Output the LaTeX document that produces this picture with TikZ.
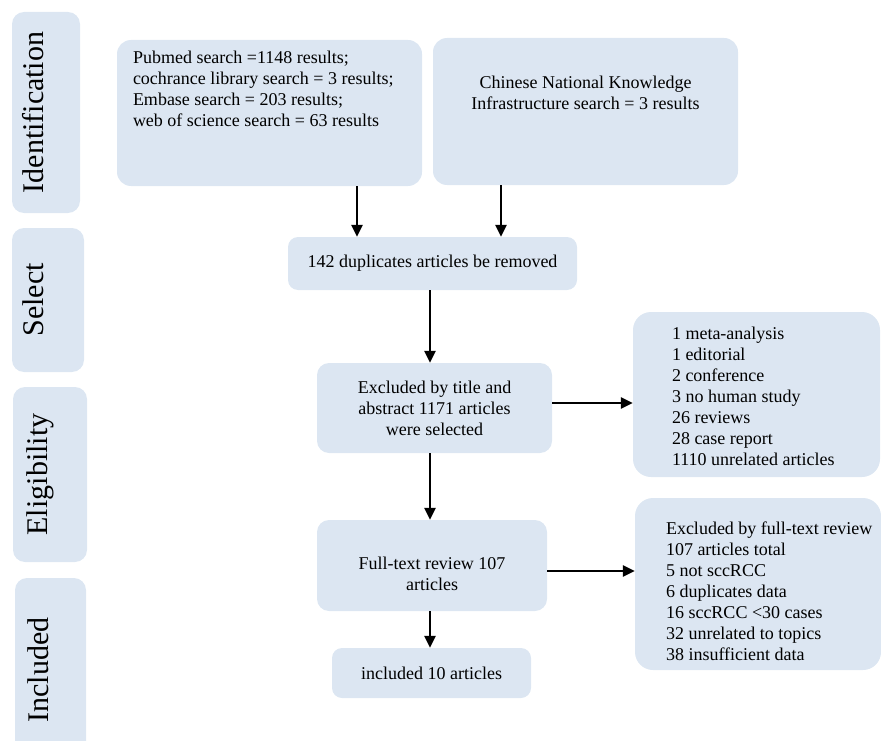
\documentclass[tikz,border=0pt]{standalone}
\usepackage{fontspec}
\setmainfont{Liberation Serif}
\usetikzlibrary{arrows.meta}
\definecolor{boxblue}{HTML}{DCE6F2}
\newcommand\boxtxt[5]{\begin{minipage}[t][#2][t]{#1}\vspace*{#3}\setlength{\leftskip}{#4}\noindent#5\end{minipage}}
\begin{document}
\begin{tikzpicture}[x=1pt,y=-1pt,
  box/.style={fill=boxblue, rounded corners=14pt, inner sep=0pt, font=\fontsize{18}{21}\selectfont},
  side/.style={fill=boxblue, rounded corners=12pt, rotate=90, inner sep=0pt, font=\fontsize{30}{36}\selectfont},
  arr/.style={line width=2.9pt, -{Triangle[length=12pt,width=11pt]}}]
\useasboundingbox (0,0) rectangle (881,741);
\clip (0,0) rectangle (881,741);
% phase labels
\node[side, minimum width=201pt, text height=31pt, text depth=37pt] (sid) at (46,112.5) {Identification};
\node[side, minimum width=144pt, text height=31pt, text depth=41pt] (ssel) at (48,300) {Select};
\node[side, minimum width=175pt, text height=34pt, text depth=40pt] (selig) at (50,474.5) {Eligibility};
\node[side, minimum width=184pt, text height=33pt, text depth=38pt] (sinc) at (50.5,670) {Included};
% main boxes
\node[box, minimum width=305pt, minimum height=146pt] (pub) at (269.5,113)
  {\boxtxt{305pt}{146pt}{11pt}{16pt}{Pubmed search =1148 results;\\cochrance library search = 3 results;\\Embase search = 203 results;\\web of science search = 63 results}};
\node[box, minimum width=305pt, minimum height=147pt] (cnki) at (585.5,111.5)
  {\boxtxt{305pt}{147pt}{38pt}{0pt}{\centering Chinese National Knowledge\\Infrastructure search = 3 results\par}};
\node[box, rounded corners=10pt, minimum width=289pt, minimum height=53pt] (dup) at (432.5,263.5)
  {142 duplicates articles be removed};
\node[box, rounded corners=12pt, minimum width=235pt, minimum height=90pt, align=center] (ex1) at (434.5,408)
  {Excluded by title and\\abstract 1171 articles\\were selected};
\node[box, rounded corners=18pt, minimum width=247pt, minimum height=165pt] (rb1) at (756.5,394.5)
  {\boxtxt{247pt}{165pt}{15.5pt}{39pt}{1 meta-analysis\\1 editorial\\2 conference\\3 no human study\\26 reviews\\28 case report\\1110 unrelated articles}};
\node[box, rounded corners=12pt, minimum width=230pt, minimum height=91pt] (full) at (432,565.5)
  {\boxtxt{230pt}{91pt}{37.5pt}{0pt}{\centering Full-text review 107\\articles\par}};
\node[box, rounded corners=18pt, minimum width=246pt, minimum height=172pt] (rb2) at (758,584)
  {\boxtxt{246pt}{172pt}{23.5pt}{31pt}{Excluded by full-text review\\107 articles total\\5 not sccRCC\\6 duplicates data\\16 sccRCC {<}30 cases\\32 unrelated to topics\\38 insufficient data}};
\node[box, rounded corners=10pt, minimum width=199pt, minimum height=50pt] (inc) at (431.5,673)
  {included 10 articles};
% arrows
\draw[arr] ([xshift=87.5pt]pub.south) -- ([xshift=87.5pt]pub.south |- dup.north);
\draw[arr] ([xshift=-84.5pt]cnki.south) -- ([xshift=-84.5pt]cnki.south |- dup.north);
\draw[arr] ([xshift=-2.5pt]dup.south) -- ([xshift=-2.5pt]dup.south |- ex1.north);
\draw[arr] ([yshift=5pt]ex1.east) -- ([yshift=5pt]ex1.east -| rb1.west);
\draw[arr] ([xshift=-4.5pt]ex1.south) -- ([xshift=-4.5pt]ex1.south |- full.north);
\draw[arr] ([xshift=-2pt]full.south) -- ([xshift=-2pt]full.south |- inc.north);
\draw[arr] ([yshift=-5.5pt]full.east) -- ([yshift=-5.5pt]full.east -| rb2.west);
\end{tikzpicture}
\end{document}
